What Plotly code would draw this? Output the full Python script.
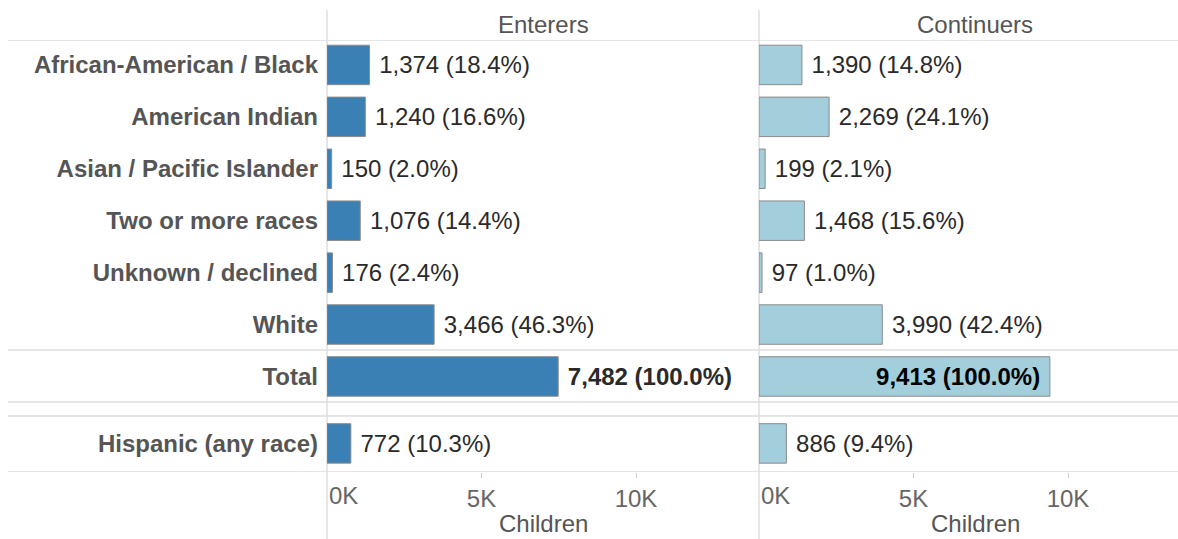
import plotly.graph_objects as go

# ---------------- data ----------------
categories = [
    "African-American / Black",
    "American Indian",
    "Asian / Pacific Islander",
    "Two or more races",
    "Unknown / declined",
    "White",
    "Total",
    "Hispanic (any race)",
]
enterers = [1374, 1240, 150, 1076, 176, 3466, 7482, 772]
enterers_pct = [18.4, 16.6, 2.0, 14.4, 2.4, 46.3, 100.0, 10.3]
continuers = [1390, 2269, 199, 1468, 97, 3990, 9413, 886]
continuers_pct = [14.8, 24.1, 2.1, 15.6, 1.0, 42.4, 100.0, 9.4]
panel_titles = ["Enterers", "Continuers"]
x_tick_vals = [0, 5000, 10000]
x_tick_text = ["0K", "5K", "10K"]
axis_title = "Children"

# ---------------- layout helpers ----------------
W, H = 1178, 539
FONT = "Liberation Sans, Arial, sans-serif"
FS = 24
NB = "\u00a0"


def px_x(x):
    return x / W


def px_y(y):
    return 1 - y / H


total_idx = categories.index("Total")
# row positions (Hispanic row separated by a small gap)
ypos = [float(i) for i in range(len(categories) - 1)] + [len(categories) - 1 + 0.29]


def make_labels(vals, pcts):
    out = []
    for i, (v, p) in enumerate(zip(vals, pcts)):
        s = f"{v:,} ({p:.1f}%)"
        if i == total_idx:
            s = f"<b>{s}</b>"
        out.append(s)
    return out


ent_lbl = make_labels(enterers, enterers_pct)
con_lbl = make_labels(continuers, continuers_pct)

ent_text = [NB + s for s in ent_lbl]
con_text = [(s + NB) if i == total_idx else (NB + s) for i, s in enumerate(con_lbl)]
con_pos = ["inside" if i == total_idx else "outside" for i in range(len(categories))]

fig = go.Figure()
fig.add_trace(go.Bar(
    y=ypos, x=enterers, orientation="h", xaxis="x", yaxis="y",
    marker=dict(color="#3a80b4", line=dict(color="#8a8a8a", width=1)),
    width=0.76, text=ent_text, textposition="outside",
    textfont=dict(family=FONT, size=FS, color="#2a2a2a"),
    constraintext="none", cliponaxis=False, hoverinfo="skip",
))
fig.add_trace(go.Bar(
    y=ypos, x=continuers, orientation="h", xaxis="x2", yaxis="y",
    marker=dict(color="#a3cfdc", line=dict(color="#8a8a8a", width=1)),
    width=0.76, text=con_text, textposition=con_pos, insidetextanchor="end",
    textfont=dict(family=FONT, size=FS, color="#2a2a2a"),
    insidetextfont=dict(family=FONT, size=FS, color="#000000"),
    outsidetextfont=dict(family=FONT, size=FS, color="#2a2a2a"),
    constraintext="none", cliponaxis=False, hoverinfo="skip",
))

left0, left1 = 327, 759
right0, right1 = 759, 1178
px_per_unit = 154.5 / 5000.0
top_px, bot_px = 40, 472

xcommon = dict(
    tickvals=x_tick_vals[1:], ticktext=x_tick_text[1:],
    ticks="outside", ticklen=5, tickcolor="#cfcfcf", tickwidth=1,
    tickfont=dict(family=FONT, size=FS, color="#666666"),
    showgrid=False, zeroline=False, showline=False, anchor="y",
    ticklabelstandoff=0,
)
fig.update_layout(
    width=W, height=H,
    margin=dict(l=0, r=0, t=0, b=0),
    paper_bgcolor="white", plot_bgcolor="white",
    showlegend=False,
    xaxis=dict(domain=[px_x(left0), px_x(left1)],
               range=[0, (left1 - left0) / px_per_unit], **xcommon),
    xaxis2=dict(domain=[px_x(right0), px_x(right1)],
                range=[0, (right1 - right0) / px_per_unit], **xcommon),
    yaxis=dict(
        domain=[px_y(bot_px), px_y(top_px)],
        range=[7.84, -0.48],
        tickvals=ypos, ticktext=[f"<b>{c}</b>" for c in categories],
        tickfont=dict(family=FONT, size=FS, color="#555555"),
        ticks="", showgrid=False, zeroline=False, showline=False,
        ticklabelstandoff=8, anchor="x",
    ),
    font=dict(family=FONT, size=FS, color="#555555"),
)

shapes = []
line_col = "#dedede"
# horizontal separators (data y coordinates)
for yv in [-0.48, 5.49, 6.49, 6.76, 7.84]:
    shapes.append(dict(type="line", xref="paper", yref="y",
                       x0=px_x(8), x1=1, y0=yv, y1=yv,
                       line=dict(color=line_col, width=1.5), layer="below"))
# vertical pane borders
for xv in [left0, right0]:
    shapes.append(dict(type="line", xref="paper", yref="paper",
                       x0=px_x(xv), x1=px_x(xv), y0=0, y1=px_y(10),
                       line=dict(color=line_col, width=1.5), layer="below"))
fig.update_layout(shapes=shapes)

ann = []
centers = [(left0 + left1) / 2, 975]
for c, t in zip(centers, panel_titles):
    ann.append(dict(text=t, x=px_x(c), y=px_y(24), xref="paper", yref="paper",
                    xanchor="center", yanchor="middle", showarrow=False,
                    font=dict(family=FONT, size=FS, color="#555555")))
    ann.append(dict(text=axis_title, x=px_x(c), y=px_y(523), xref="paper", yref="paper",
                    xanchor="center", yanchor="middle", showarrow=False,
                    font=dict(family=FONT, size=FS, color="#555555")))
for xr in ["x", "x2"]:
    ann.append(dict(text=x_tick_text[0], x=x_tick_vals[0], xref=xr, y=px_y(495), yref="paper",
                    xanchor="left", yanchor="middle", showarrow=False, xshift=0,
                    font=dict(family=FONT, size=FS, color="#666666")))
fig.update_layout(annotations=ann)

fig.write_html("out.html", config={"displayModeBar": False})

# remove the browser's default page margin so the figure sits at (0, 0)
with open("out.html", "r", encoding="utf-8") as f:
    html = f.read()
html = html.replace("<head>", "<head><style>html,body{margin:0;padding:0;overflow:hidden;}</style>", 1)
with open("out.html", "w", encoding="utf-8") as f:
    f.write(html)
